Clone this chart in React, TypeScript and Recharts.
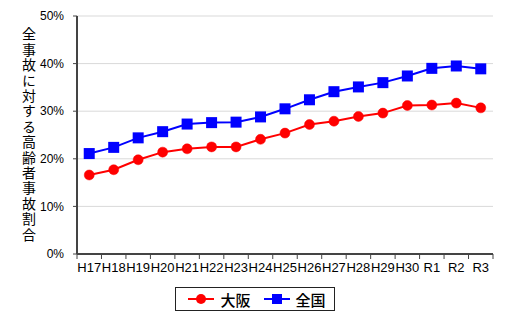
import {
  LineChart,
  Line,
  XAxis,
  YAxis,
  CartesianGrid,
  Legend,
} from 'recharts';

const years = ['H17', 'H18', 'H19', 'H20', 'H21', 'H22', 'H23', 'H24', 'H25', 'H26', 'H27', 'H28', 'H29', 'H30', 'R1', 'R2', 'R3'];
const osaka = [16.6, 17.7, 19.8, 21.4, 22.1, 22.5, 22.5, 24.1, 25.4, 27.2, 27.9, 28.9, 29.6, 31.2, 31.3, 31.7, 30.7];
const zenkoku = [21.1, 22.4, 24.4, 25.7, 27.3, 27.6, 27.7, 28.8, 30.5, 32.4, 34.1, 35.1, 36.0, 37.4, 39.0, 39.5, 38.9];
const yTicks = [0, 10, 20, 30, 40, 50];
const yTitle = '全事故に対する高齢者事故割合';

const data = years.map((year, i) => ({ year, osaka: osaka[i], zenkoku: zenkoku[i] }));

const W = 510;
const H = 319;
const M = { top: 16, right: 17, left: 0, bottom: 0 };
const Y_W = 77;
const plotW = W - Y_W - M.right;
const band = plotW / years.length;

const font = '"Liberation Sans", Arial, sans-serif';
const jp = '"Noto Sans CJK JP", sans-serif';

// ticks sit on the category boundaries, labels in the middle
const XTick = (props: any) => {
  const { x, y, payload, index } = props;
  const left = x - band / 2;
  return (
    <g>
      <line x1={left} x2={left} y1={y - 8} y2={y - 3} stroke="#444" strokeWidth={1} />
      {index === years.length - 1 && (
        <line x1={left + band} x2={left + band} y1={y - 8} y2={y - 3} stroke="#444" strokeWidth={1} />
      )}
      <text x={x} y={y + 10} textAnchor="middle" fontSize={13} fontFamily={font} fill="#000">
        {payload.value}
      </text>
    </g>
  );
};

const YTitle = () => (
  <text
    x={29}
    y={27}
    fontSize={14}
    fontFamily={jp}
    fill="#000"
    letterSpacing={1.4}
    style={{ writingMode: 'vertical-rl' }}
  >
    {yTitle}
  </text>
);

const LegendBox = () => (
  <div style={{ display: 'flex', justifyContent: 'center' }}>
    <div
      style={{
        display: 'flex',
        alignItems: 'center',
        border: '1px solid #222',
        height: 22,
        padding: '0 8px 0 12px',
        fontFamily: jp,
        fontSize: 15,
        fontWeight: 500,
        color: '#000',
        background: '#fff',
      }}
    >
      <svg width={26} height={12}>
        <line x1={0} x2={26} y1={6} y2={6} stroke="#ff0000" strokeWidth={2} />
        <circle cx={13} cy={6} r={5} fill="#ff0000" />
      </svg>
      <span style={{ marginLeft: 6, marginRight: 13 }}>大阪</span>
      <svg width={26} height={12}>
        <line x1={0} x2={26} y1={6} y2={6} stroke="#0000ff" strokeWidth={2} />
        <rect x={8} y={1} width={10} height={10} fill="#0000ff" />
      </svg>
      <span style={{ marginLeft: 6 }}>全国</span>
    </div>
  </div>
);

const SquareDot = (props: any) => {
  const { cx, cy } = props;
  return <rect x={cx - 5.5} y={cy - 5.5} width={11} height={11} fill="#0000ff" />;
};

export default function App() {
  return (
    <div style={{ position: 'absolute', left: 0, top: 0, background: '#fff' }}>
      <LineChart width={W} height={H} data={data} margin={M}>
        <CartesianGrid horizontal vertical={false} stroke="#d9d9d9" strokeWidth={1} />
        <XAxis
          dataKey="year"
          height={41}
          interval={0}
          padding={{ left: band / 2, right: band / 2 }}
          tickLine={false}
          axisLine={{ stroke: '#444', strokeWidth: 2 }}
          tick={<XTick />}
        />
        <XAxis
          xAxisId="top"
          orientation="top"
          dataKey="year"
          height={0}
          tick={false}
          tickLine={false}
          axisLine={{ stroke: '#777', strokeWidth: 1 }}
        />
        <YAxis
          domain={[0, 50]}
          ticks={yTicks}
          width={Y_W}
          tickSize={4}
          tickMargin={9}
          tickFormatter={(v) => `${v}%`}
          tick={{ fill: '#000', fontSize: 12, fontFamily: font }}
          axisLine={{ stroke: '#444', strokeWidth: 2 }}
          tickLine={{ stroke: '#444' }}
          label={<YTitle />}
        />
        <YAxis
          yAxisId="right"
          orientation="right"
          domain={[0, 50]}
          width={0}
          tick={false}
          tickLine={false}
          axisLine={{ stroke: '#222', strokeWidth: 1.5 }}
        />
        <Legend
          verticalAlign="bottom"
          wrapperStyle={{ left: 0, width: W, top: 287, bottom: 'auto' }}
          content={<LegendBox />}
        />
        <Line
          dataKey="osaka"
          name="大阪"
          stroke="#ff0000"
          strokeWidth={2}
          dot={{ r: 5, fill: '#ff0000', stroke: '#ff0000', strokeWidth: 0.5 }}
          isAnimationActive={false}
        />
        <Line
          dataKey="zenkoku"
          name="全国"
          stroke="#0000ff"
          strokeWidth={2}
          dot={<SquareDot />}
          isAnimationActive={false}
        />
      </LineChart>
    </div>
  );
}
